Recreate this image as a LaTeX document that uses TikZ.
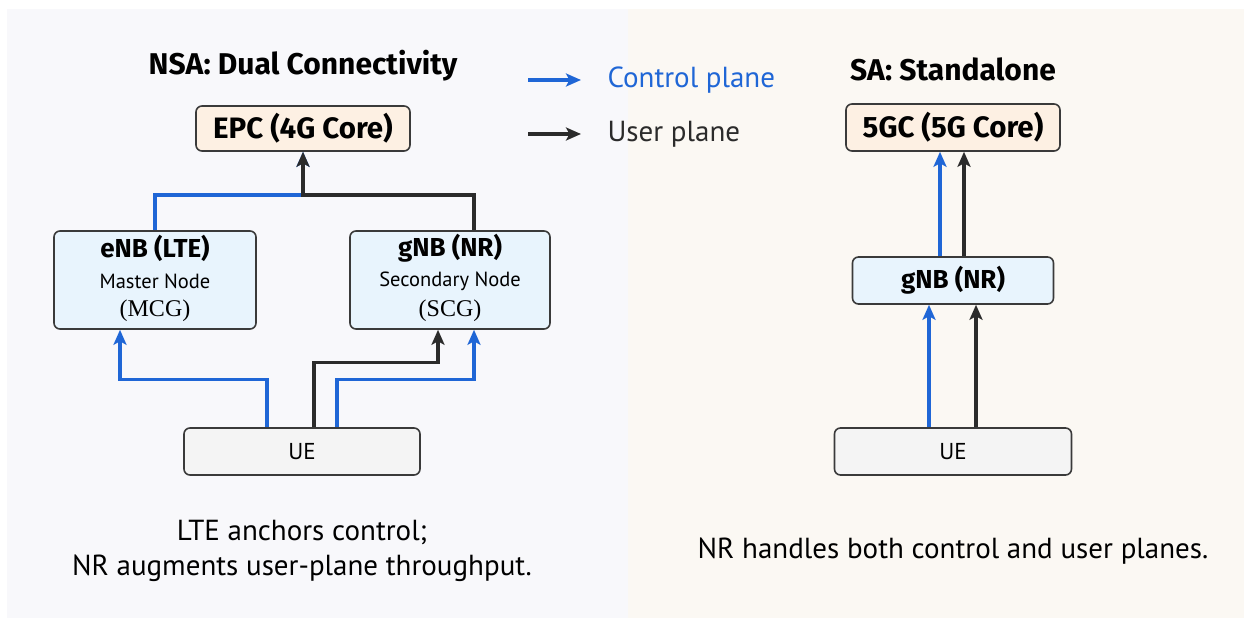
\documentclass[tikz,border=0pt]{standalone}
\usepackage{fontspec}
\setmainfont{PT Sans}
\newfontfamily\hfont{Fira Sans}
\newfontfamily\serifface{Liberation Serif}
\usetikzlibrary{arrows.meta,calc}
\definecolor{ctrlblue}{HTML}{1F66D6}
\definecolor{userblk}{HTML}{2B2B2B}
\definecolor{boxline}{HTML}{3A3A3A}
\definecolor{corefill}{HTML}{FDF0E3}
\definecolor{nodefill}{HTML}{E8F4FD}
\definecolor{uefill}{HTML}{F4F4F4}
\definecolor{leftbg}{HTML}{F8F8FB}
\definecolor{rightbg}{HTML}{FBF8F3}
\tikzset{
  box/.style={draw=boxline, line width=1.6pt, rounded corners=6pt, inner sep=0pt, align=center},
  corebox/.style={box, fill=corefill, font=\hfont\bfseries\fontsize{29.5}{33}\selectfont},
  rbox/.style={box, fill=nodefill},
  uebox/.style={box, fill=uefill, font=\fontsize{23}{26}\selectfont},
  tip/.style={-{Stealth[length=15pt,width=13pt,inset=3.5pt]}},
  ctrl/.style={tip, draw=ctrlblue, line width=3.2pt},
  user/.style={tip, draw=userblk, line width=3.2pt},
  ttl/.style={font=\hfont\bfseries\fontsize{30}{33}\selectfont, text=black},
  boxhead/.style={font=\hfont\bfseries\fontsize{26}{29}\selectfont},
  boxsub/.style={font=\fontsize{20.5}{23}\selectfont},
  boxcode/.style={font=\serifface\fontsize{24}{28}\selectfont},
  captext/.style={font=\fontsize{29}{35}\selectfont, align=center, text=black},
}
\begin{document}
\begin{tikzpicture}[x=1pt,y=-1pt]
\useasboundingbox (0,0) rectangle (1244,620);
\fill[leftbg] (7,9) rectangle (628,618);
\fill[rightbg] (628,9) rectangle (1244,618);

% NSA
\node[ttl] (nsat) at (303,66) {NSA: Dual Connectivity};
\node[corebox, minimum width=214pt, minimum height=45pt] (epc) at (303,128.5) {EPC (4G Core)};
\node[rbox, minimum width=202pt, minimum height=98pt] (enb) at (155,280) {};
\node[boxhead] (enbt) at (155,248) {eNB (LTE)};
\node[boxsub] (enbs) at (155,281) {Master Node};
\node[boxcode] (enbc) at (155,311) {(MCG)};
\node[rbox, minimum width=200pt, minimum height=98pt] (gnb) at (450,280) {};
\node[boxhead] (gnbt) at (450,248) {gNB (NR)};
\node[boxsub] (gnbs) at (450,281) {Secondary Node};
\node[boxcode] (gnbc) at (450,311) {(SCG)};
\node[uebox, minimum width=236pt, minimum height=47pt] (ue) at (302,451.5) {UE};
\coordinate (j) at (303,195);

\draw[ctrl] (enb.north) |- (j) -- (epc.south);
\draw[user] ([xshift=24pt]gnb.north) |- (j) -- (epc.south);
\draw[ctrl] ([xshift=-35pt]ue.north) -- ++(0,-48) -| ([xshift=-35pt]enb.south);
\draw[user] ([xshift=12pt]ue.north) -- ++(0,-65) -| ([xshift=-12pt]gnb.south);
\draw[ctrl] ([xshift=35pt]ue.north) -- ++(0,-48) -| ([xshift=24pt]gnb.south);

\node[captext] (nsacap) at (302,551) {LTE anchors control;\\NR augments user-plane throughput.};

% legend
\coordinate (l1a) at (528,80); \coordinate (l1b) at (581,80);
\coordinate (l2a) at (528,134); \coordinate (l2b) at (581,134);
\draw[ctrl] (l1a) -- (l1b);
\draw[user] (l2a) -- (l2b);
\node[anchor=west, text=ctrlblue, font=\fontsize{29}{32}\selectfont] (lc) at (604,80) {Control plane};
\node[anchor=west, text=userblk, font=\fontsize{29}{32}\selectfont] (lu) at (604,134) {User plane};

% SA
\node[ttl] (sat) at (953,69) {SA: Standalone};
\node[corebox, minimum width=214pt, minimum height=47pt] (core5) at (953,127.5) {5GC (5G Core)};
\node[rbox, minimum width=201pt, minimum height=47pt, boxhead] (gnbsa) at (953,280.5) {gNB (NR)};
\node[uebox, minimum width=237pt, minimum height=47pt] (uesa) at (953,451.5) {UE};
\draw[ctrl] ([xshift=-13pt]gnbsa.north) -- ([xshift=-13pt]core5.south);
\draw[user] ([xshift=11pt]gnbsa.north) -- ([xshift=11pt]core5.south);
\draw[ctrl] ([xshift=-24pt]uesa.north) -- ([xshift=-24pt]gnbsa.south);
\draw[user] ([xshift=23pt]uesa.north) -- ([xshift=23pt]gnbsa.south);
\node[captext] (sacap) at (953,551) {NR handles both control and user planes.};
\end{tikzpicture}
\end{document}
